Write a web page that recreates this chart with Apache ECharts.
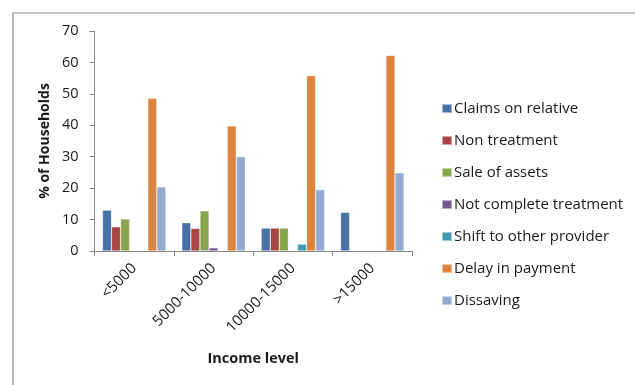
<!DOCTYPE html>
<html>
<head>
<meta charset="utf-8">
<script src="https://cdn.jsdelivr.net/npm/echarts@6/dist/echarts.min.js"></script>
<style>
  html, body { margin: 0; padding: 0; background: #fff; }
  #chart { width: 635px; height: 385px; }
</style>
</head>
<body>
<div id="chart"></div>
<script>
// Coping strategies by household income level (% of households)
const categories = ['<5000', '5000-10000', '10000-15000', '>15000'];
const seriesNames = [
  'Claims on relative',
  'Non treatment',
  'Sale of assets',
  'Not complete treatment',
  'Shift to other provider',
  'Delay in payment',
  'Dissaving'
];
const claimsOnRelative = [13.0, 9.0, 7.3, 12.3];
const nonTreatment = [7.7, 7.2, 7.3, null];
const saleOfAssets = [10.2, 12.8, 7.3, null];
const notCompleteTreatment = [null, 1.0, null, null];
const shiftToOtherProvider = [null, null, 2.2, null];
const delayInPayment = [48.6, 39.8, 55.8, 62.2];
const dissaving = [20.4, 30.0, 19.5, 24.9];
const yTicks = [0, 10, 20, 30, 40, 50, 60, 70];

const seriesValues = [
  claimsOnRelative, nonTreatment, saleOfAssets, notCompleteTreatment,
  shiftToOtherProvider, delayInPayment, dissaving
];
const colors = ['#4672A8', '#AA4643', '#89A54E', '#71588F', '#4198AF', '#DB843D', '#93A9CF'];
const font = 'Open Sans, DejaVu Sans, sans-serif';

const chart = echarts.init(document.getElementById('chart'), null, { renderer: 'canvas' });
chart.setOption({
  animation: false,
  color: colors,
  graphic: [{
    type: 'rect',
    shape: { x: 13, y: 13, width: 700, height: 500 },
    style: { fill: 'none', stroke: '#8c8c8c', lineWidth: 1.2 },
    silent: true,
    z: -1
  }],
  grid: { left: 94.5, right: 223, top: 31, bottom: 134 },
  legend: {
    orient: 'vertical',
    left: 436,
    top: 96,
    itemWidth: 10,
    itemHeight: 9,
    itemGap: 17,
    icon: 'rect',
    textStyle: { fontFamily: font, fontSize: 15, color: '#1a1a1a', padding: [0, 0, 0, -3] },
    data: seriesNames
  },
  xAxis: {
    type: 'category',
    data: categories,
    name: 'Income level',
    nameLocation: 'middle',
    nameGap: 100,
    nameTextStyle: { fontFamily: font, fontSize: 14.5, fontWeight: 'bold', color: '#1a1a1a' },
    axisLine: { lineStyle: { color: '#868686', width: 1 } },
    axisTick: { show: true, length: 5, lineStyle: { color: '#868686' } },
    axisLabel: { rotate: 45, margin: 15, fontFamily: font, fontSize: 15, color: '#1a1a1a' }
  },
  yAxis: {
    type: 'value',
    min: 0,
    max: 70,
    interval: 10,
    name: '% of Households',
    nameLocation: 'middle',
    nameGap: 42,
    nameTextStyle: { fontFamily: font, fontSize: 14, fontWeight: 'bold', color: '#1a1a1a' },
    axisLine: { show: true, lineStyle: { color: '#868686', width: 1 } },
    axisTick: { show: true, length: 5, lineStyle: { color: '#868686' } },
    splitLine: { show: false },
    axisLabel: {
      margin: 16,
      fontFamily: font, fontSize: 14.5, color: '#1a1a1a',
      formatter: v => (yTicks.includes(v) ? String(v) : '')
    }
  },
  series: seriesNames.map((name, i) => ({
    name,
    type: 'bar',
    data: seriesValues[i],
    barGap: '0%',
    barCategoryGap: '20%',
    itemStyle: { color: colors[i], borderColor: 'rgba(255,255,255,0.5)', borderWidth: 0.6 }
  }))
});
</script>
</body>
</html>
